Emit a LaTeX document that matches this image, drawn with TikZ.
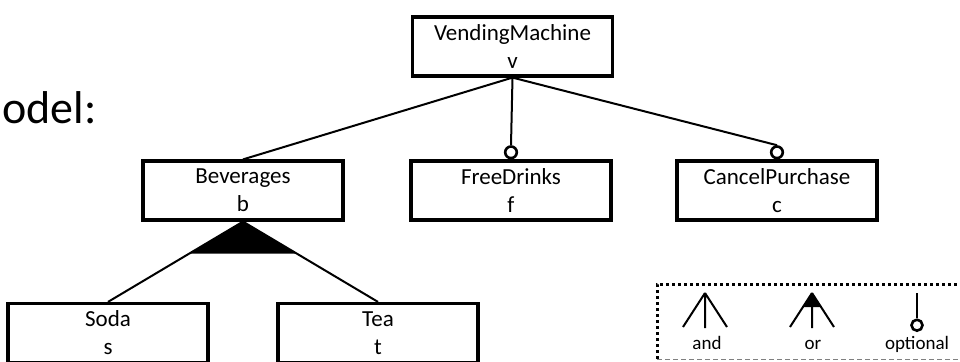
\documentclass[tikz,border=0pt]{standalone}
\usepackage{fontspec}
\setmainfont{Carlito}
\usetikzlibrary{calc, positioning}

\tikzset{
  feature/.style={draw, line width=1.6pt, fill=white, minimum width=100pt,
    minimum height=29.5pt, inner sep=0pt, align=center,
    execute at begin node=\rule{0pt}{11pt},
    font=\fontsize{11.5}{14}\selectfont},
  optcirc/.style={circle, draw, line width=1.3pt, fill=white,
    minimum size=5.8pt, inner sep=0pt},
  link/.style={line width=1pt},
  legtext/.style={font=\fontsize{9.5}{11}\selectfont, inner sep=0pt, anchor=base},
}

\begin{document}
\begin{tikzpicture}[x=0.5pt, y=-0.5pt]
\clip (0,0) rectangle (960,361);
% texto cortado a la izquierda
\node[anchor=base west, inner sep=0pt, font=\fontsize{23}{28}\selectfont] (titulo) at (2,123) {odel:};
% caracteristicas
\node[feature] (vm) at (512.5,46.5) {VendingMachine\\v};
\node[feature] (bev) at (243,190.5) {Beverages\\b};
\node[feature] (fd) at (511,190.5) {FreeDrinks\\f};
\node[feature] (cp) at (777,190.5) {CancelPurchase\\c};
\node[feature] (soda) at (108,333) {Soda\\s};
\node[feature] (tea) at (378,333) {Tea\\t};
% opcionales
\node[optcirc, anchor=south] (fdopt) at (fd.north) {};
\node[optcirc, anchor=south] (cpopt) at (cp.north) {};
\draw[link] (vm.south) -- (bev.north);
\draw[link] (vm.south) -- (fdopt.north);
\draw[link] (vm.south) -- (cpopt.north);
% grupo or
\draw[link] (bev.south) -- (soda.north);
\draw[link] (bev.south) -- (tea.north);
\fill[black] (bev.south) -- ($(bev.south)!0.4!(soda.north)$) -- ($(bev.south)!0.4!(tea.north)$) -- cycle;
% leyenda
\draw[line width=1.5pt, dash pattern=on 1.5pt off 1.5pt] (657,359) -- (657,284) -- (975,284);
\draw[gray, line width=0.5pt, dash pattern=on 2.5pt off 1.5pt] (657,359) -- (975,359);
\coordinate (andtop) at (705,293);
\draw[link] (andtop) -- ++(-22,34) (andtop) -- ++(0,35) (andtop) -- ++(22,34);
\node[legtext] (andlbl) at (707,349) {and};
\coordinate (ortop) at (812,293);
\draw[link] (ortop) -- ++(-22,34) (ortop) -- ++(0,35) (ortop) -- ++(22,34);
\fill[black] (ortop) -- ++(-9,14) -- ++(18,0) -- cycle;
\node[legtext] (orlbl) at (813,349) {or};
\coordinate (opttop) at (917,293);
\node[optcirc, minimum size=5.5pt, anchor=south] (optc) at (917,332) {};
\draw[link] (opttop) -- (optc.north);
\node[legtext] (optlbl) at (917,349) {optional};
\end{tikzpicture}
\end{document}
